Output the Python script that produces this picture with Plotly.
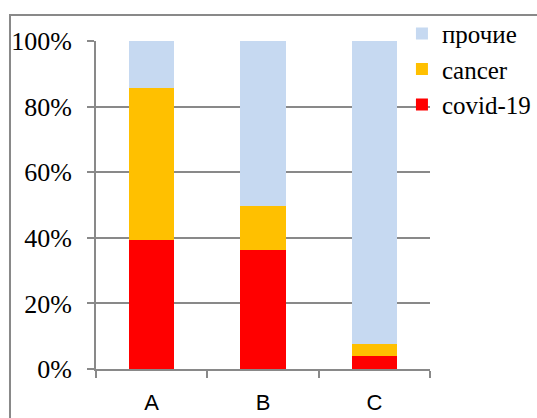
import plotly.graph_objects as go

categories = ["A", "B", "C"]
covid = [39.3, 36.4, 4.0]
cancer = [46.4, 13.4, 3.7]
other = [14.3, 50.2, 92.3]
y_ticks = [0, 20, 40, 60, 80, 100]
y_tick_labels = ["0%", "20%", "40%", "60%", "80%", "100%"]

fig = go.Figure()
fig.add_trace(go.Bar(x=categories, y=covid, name="covid-19", marker=dict(color="#FF0000", line=dict(width=0))))
fig.add_trace(go.Bar(x=categories, y=cancer, name="cancer", marker=dict(color="#FFC000", line=dict(width=0))))
fig.add_trace(go.Bar(x=categories, y=other, name="прочие", marker=dict(color="#C6D9F1", line=dict(width=0))))

fig.update_layout(
    width=537, height=418,
    barmode="stack", bargap=0.595,
    margin=dict(l=96, r=107, t=41, b=49, autoexpand=False),
    plot_bgcolor="white", paper_bgcolor="white",
    showlegend=True,
    legend=dict(x=0.916, y=1.092, xanchor="left", yanchor="top", traceorder="reversed",
                font=dict(family="Liberation Serif", size=25, color="#000000"),
                bgcolor="rgba(0,0,0,0)", itemsizing="constant", tracegroupgap=0),
    xaxis=dict(showgrid=False, showline=True, linecolor="#898989", linewidth=2,
               ticks="outside", tickson="boundaries", ticklen=7, tickwidth=2, tickcolor="#898989",
               ticklabelstandoff=13,
               tickfont=dict(family="Liberation Sans", size=22, color="#000000")),
    yaxis=dict(range=[0, 100], tickvals=y_ticks, ticktext=y_tick_labels,
               showgrid=True, gridcolor="#898989", gridwidth=2,
               showline=True, linecolor="#898989", linewidth=2,
               ticks="outside", ticklen=7, tickwidth=2, tickcolor="#898989",
               ticklabelstandoff=10,
               tickfont=dict(family="Liberation Serif", size=26, color="#000000"),
               zeroline=False),
    shapes=[dict(type="path", xref="paper", yref="paper",
                 path="M -0.2575,-0.2 L -0.2575,1.0791 L 1.4,1.0791",
                 line=dict(color="#898989", width=2))],
)

fig.write_html("out.html", config={"displayModeBar": False},
               post_script="document.body.style.margin='0';")
